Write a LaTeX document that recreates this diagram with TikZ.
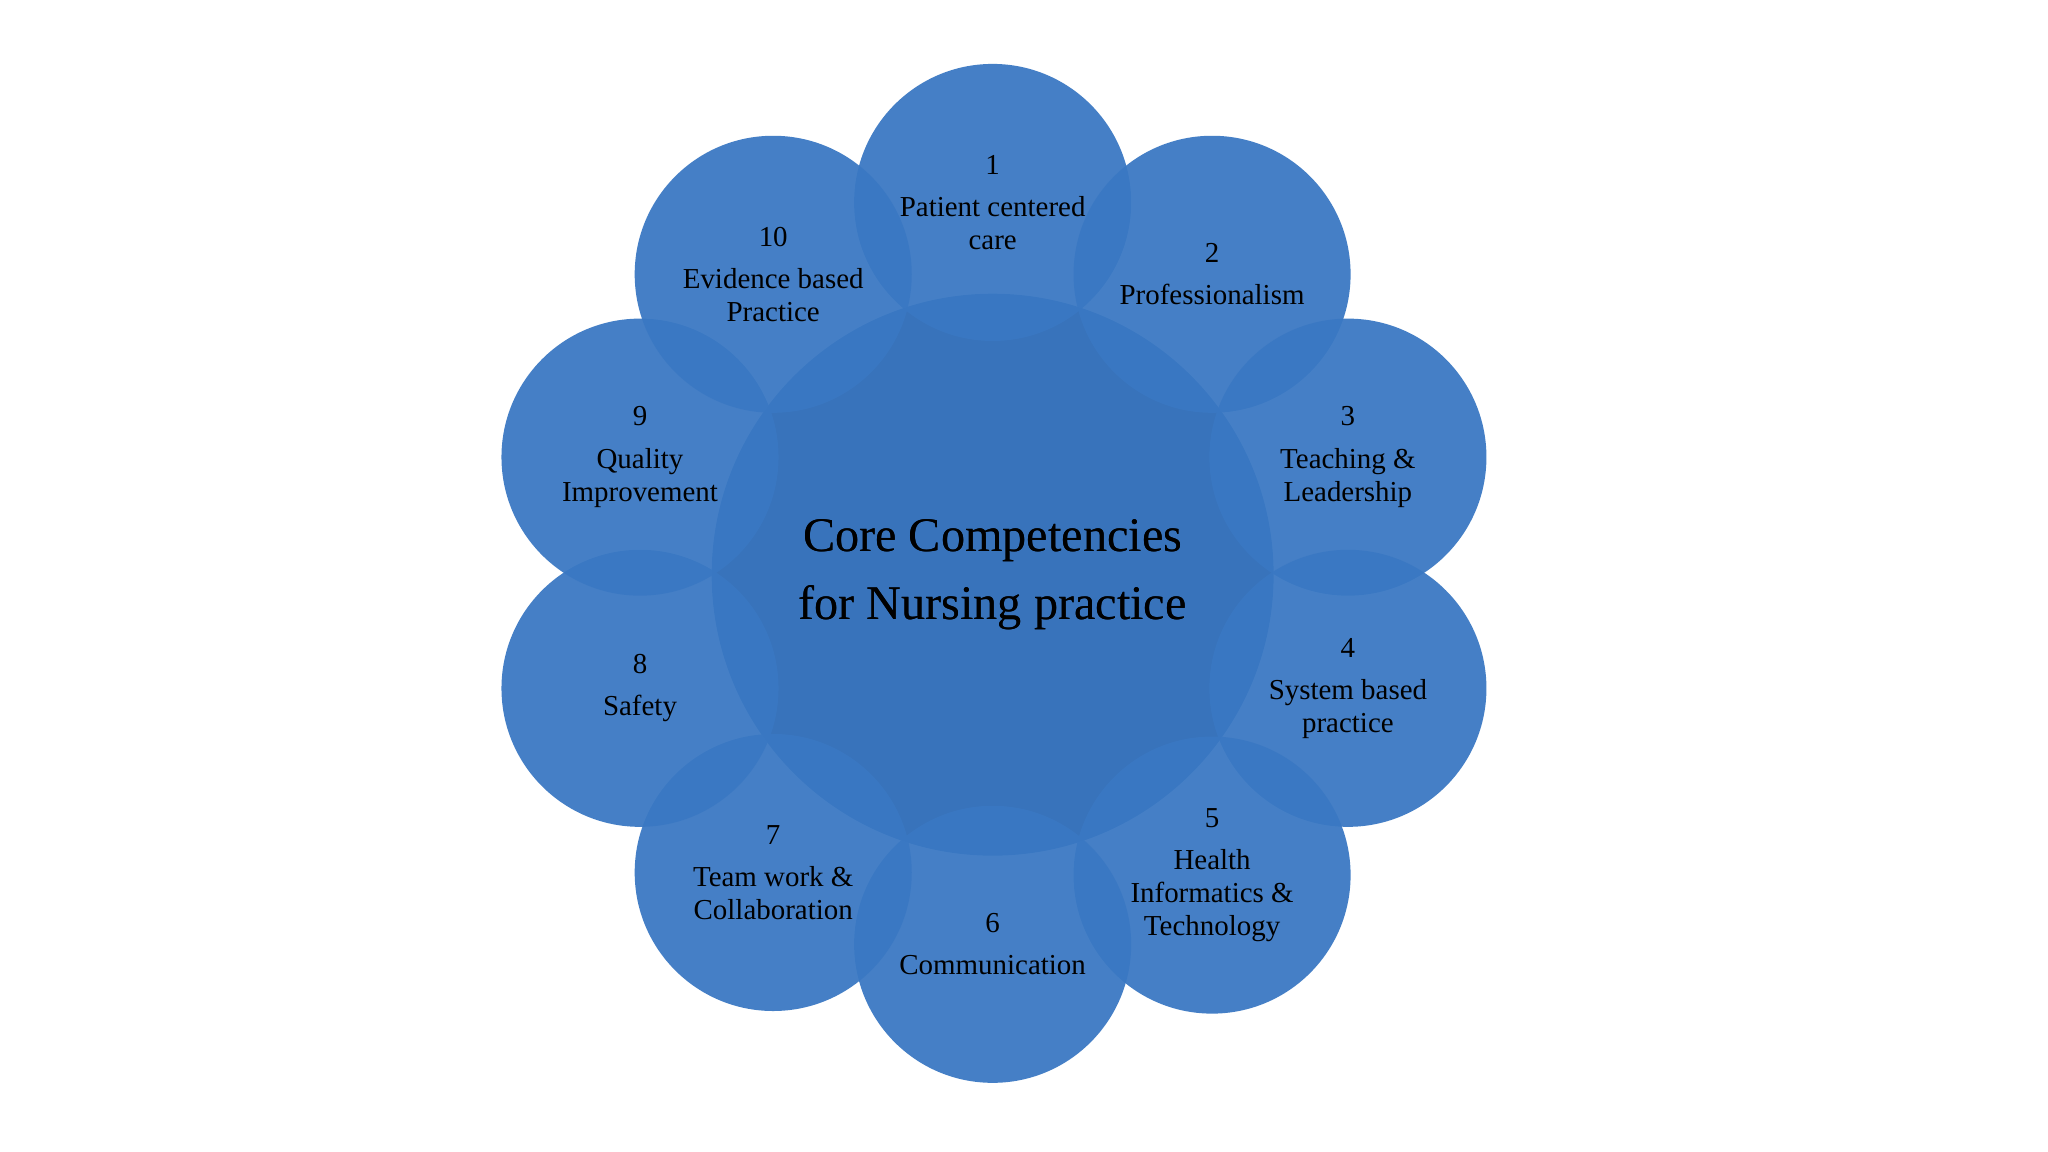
\documentclass[tikz,border=0pt]{standalone}
\usepackage{fontspec}
\setmainfont{Liberation Serif}
\definecolor{cblue}{RGB}{58,120,195}
\begin{document}
\begin{tikzpicture}[x=0.01cm,y=-0.01cm,
  petal/.style={circle,minimum size=2.12cm,inner sep=0pt,fill=cblue,fill opacity=0.94,text opacity=1,align=center,font=\fontsize{6.3}{7.2}\selectfont,text=black},
  core/.style={circle,minimum size=4.3cm,inner sep=0pt,fill=cblue!96!black,align=center,font=\fontsize{10.5}{15}\selectfont,text=black}]
\useasboundingbox (0,0) rectangle (1568,882);
\fill[white] (0,0) rectangle (1568,882);
\node[core] (c) at (760,440) {Core Competencies\\for Nursing practice};
\node[petal] (p1) at (760,155) {1\\[2pt]Patient centered\\care};
\node[petal] (p2) at (928,210) {2\\[2pt]Professionalism};
\node[petal] (p3) at (1032,350) {3\\[2pt]Teaching \&\\Leadership};
\node[petal] (p4) at (1032,527) {4\\[2pt]System based\\practice};
\node[petal] (p5) at (928,670) {5\\[2pt]Health\\Informatics \&\\Technology};
\node[petal] (p6) at (760,723) {6\\[2pt]Communication};
\node[petal] (p7) at (592,668) {7\\[2pt]Team work \&\\Collaboration};
\node[petal] (p8) at (490,527) {8\\[2pt]Safety};
\node[petal] (p9) at (490,350) {9\\[2pt]Quality\\Improvement};
\node[petal] (p10) at (592,210) {10\\[2pt]Evidence based\\Practice};
\node[font=\fontsize{10.5}{15}\selectfont,align=center,text=black] (t) at (c) {Core Competencies\\for Nursing practice};
\end{tikzpicture}
\end{document}
